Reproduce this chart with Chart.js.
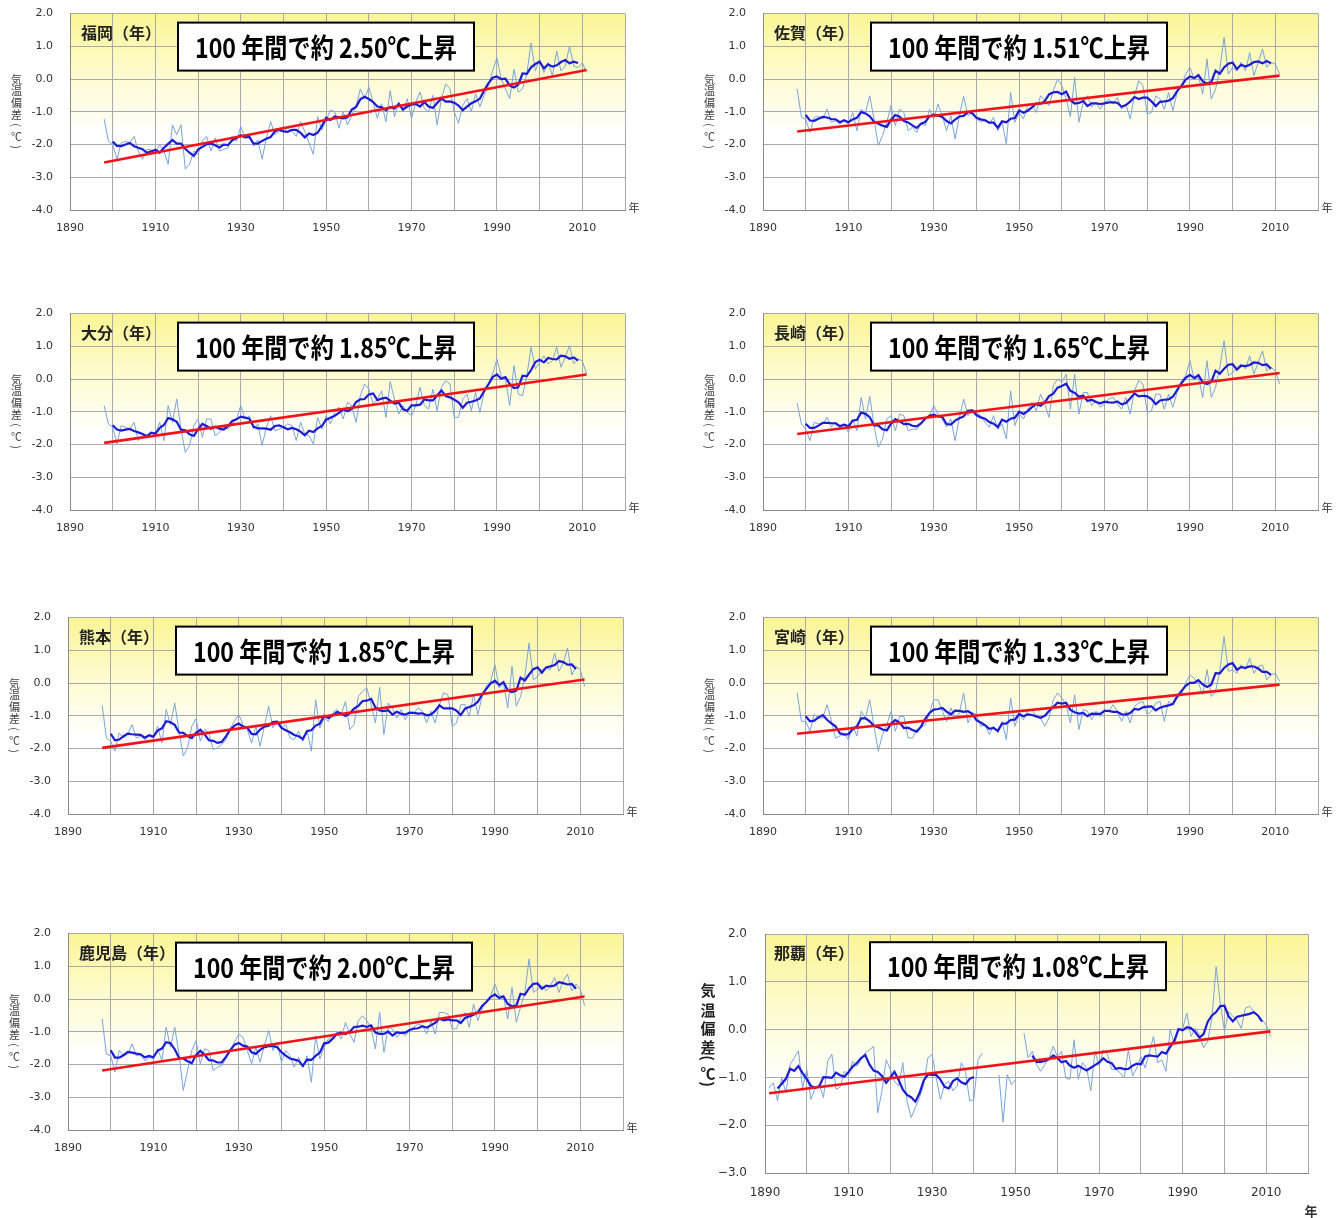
<!DOCTYPE html>
<html>
<head>
<meta charset="utf-8">
<script src="https://cdn.jsdelivr.net/npm/chart.js@4.4.0/dist/chart.umd.min.js"></script>
<style>
  html, body { margin: 0; padding: 0; background: #ffffff; }
  body { position: relative; width: 1343px; height: 1218px; overflow: hidden; }
  canvas { position: absolute; }
</style>
</head>
<body>
<script>
// Annual mean temperature anomaly (°C), one value per year from 1898 to 2011.
const firstYear = 1898;

const fukuokaAnnual = [
  -1.22, -1.90,
  -2.00, -2.45, -1.95, -1.90, -1.95, -1.75, -2.20, -2.45, -2.15, -2.15,
  -2.30, -2.00, -2.20, -2.60, -1.40, -1.70, -1.40, -2.75, -2.60, -2.20,
  -2.30, -1.90, -1.75, -2.20, -1.80, -2.20, -2.15, -2.10, -1.75, -1.90,
  -1.45, -1.80, -1.70, -2.05, -1.85, -2.45, -1.80, -1.30, -1.70, -1.60,
  -1.60, -1.50, -1.60, -1.75, -1.30, -1.60, -1.95, -2.30, -1.15, -1.55,
  -1.25, -0.95, -1.00, -1.50, -1.00, -1.40, -1.10, -0.85, -0.30, -0.60,
  -0.25, -0.70, -1.20, -0.75, -1.30, -0.35, -1.15, -0.70, -1.00, -0.60,
  -1.20, -0.70, -0.40, -0.90, -1.00, -0.50, -1.40, -0.60, -0.15, -0.30,
  -1.00, -1.35, -0.80, -0.60, -1.00, -0.45, -0.85, -0.50, -0.20, 0.25,
  0.65, 0.00, -0.30, -0.60, 0.30, -0.40, -0.30, 0.15, 1.10, 0.25,
  0.60, 0.20, 0.50, 0.10, 0.85, 0.25, 0.40, 1.00, 0.40, 0.35,
  0.50, 0.20
];

const sagaAnnual = [
  -0.30, -1.17,
  -1.22, -1.63, -1.17, -1.14, -1.22, -0.92, -1.32, -1.27, -1.37, -1.27,
  -1.37, -1.02, -1.58, -0.92, -1.02, -0.51, -1.22, -2.03, -1.73, -1.32,
  -0.81, -1.42, -0.92, -1.02, -1.58, -1.47, -1.63, -1.37, -1.42, -0.92,
  -1.22, -0.76, -1.12, -1.58, -1.12, -1.83, -1.12, -0.53, -1.12, -1.02,
  -1.22, -1.32, -1.22, -1.37, -1.17, -1.58, -1.32, -1.98, -0.41, -1.32,
  -1.02, -1.22, -0.81, -0.76, -1.02, -0.51, -0.66, -0.81, -0.36, 0.00,
  -0.20, -0.60, -1.15, 0.05, -1.32, -0.71, -0.51, -0.86, -0.71, -0.92,
  -0.71, -0.61, -0.76, -0.56, -0.92, -0.76, -1.22, -0.51, -0.05, -0.20,
  -1.07, -1.02, -0.51, -0.61, -0.92, -0.41, -0.97, -0.41, -0.20, 0.15,
  0.36, 0.00, 0.10, -0.46, 0.61, -0.61, -0.31, 0.31, 1.27, 0.15,
  0.36, 0.25, 0.51, 0.25, 0.81, 0.10, 0.51, 0.92, 0.36, 0.51,
  0.46, 0.15
];

const oitaAnnual = [
  -0.81, -1.37,
  -1.47, -1.98, -1.42, -1.47, -1.53, -1.32, -1.88, -1.73, -1.68, -1.78,
  -1.68, -1.32, -1.88, -0.81, -1.32, -0.61, -1.53, -2.24, -2.03, -1.42,
  -1.22, -1.78, -1.22, -1.22, -1.73, -1.63, -1.47, -1.53, -1.37, -1.22,
  -0.81, -1.22, -1.12, -1.53, -1.37, -2.03, -1.47, -1.12, -1.58, -1.53,
  -1.47, -1.37, -1.42, -1.88, -1.32, -1.68, -1.73, -1.98, -1.17, -1.53,
  -1.12, -1.37, -1.02, -0.86, -1.22, -0.71, -0.81, -1.32, -0.51, -0.15,
  -0.31, -0.76, -0.61, -0.36, -1.17, -0.08, -0.61, -1.07, -0.81, -1.02,
  -1.12, -0.81, -0.25, -0.81, -0.92, -0.31, -0.97, -0.25, -0.05, -0.15,
  -1.17, -1.17, -0.61, -0.46, -0.97, -0.41, -1.02, -0.41, -0.15, 0.15,
  0.61, 0.10, 0.00, -0.81, 0.41, -0.46, -0.51, 0.10, 0.97, 0.31,
  0.51, 0.71, 0.46, 0.56, 0.97, 0.36, 0.66, 1.02, 0.46, 0.61,
  0.56, 0.15
];

const nagasakiAnnual = [
  -0.73, -1.37,
  -1.53, -1.88, -1.32, -1.37, -1.37, -1.17, -1.47, -1.32, -1.42, -1.37,
  -1.63, -1.22, -1.58, -0.56, -1.22, -0.53, -1.42, -2.08, -1.83, -1.22,
  -1.12, -1.58, -1.07, -1.12, -1.58, -1.53, -1.53, -1.37, -1.22, -1.12,
  -0.81, -1.07, -1.22, -1.47, -1.22, -1.88, -1.17, -0.61, -1.12, -0.92,
  -1.02, -1.12, -1.32, -1.47, -1.12, -1.53, -1.37, -1.83, -0.36, -1.42,
  -1.07, -1.22, -0.92, -0.71, -0.97, -0.46, -0.76, -1.17, -0.20, 0.00,
  -0.10, 0.15, -0.92, 0.15, -1.07, -0.41, -0.41, -0.81, -0.66, -0.86,
  -0.76, -0.61, -0.56, -0.76, -0.92, -0.56, -1.07, -0.36, -0.05, -0.15,
  -1.02, -0.97, -0.46, -0.46, -0.92, -0.46, -0.86, -0.41, -0.05, 0.10,
  0.56, 0.00, 0.05, -0.56, 0.56, -0.56, -0.25, 0.36, 1.17, 0.10,
  0.20, 0.36, 0.46, 0.31, 0.71, 0.15, 0.51, 0.86, 0.25, 0.36,
  0.25, -0.15
];

const kumamotoAnnual = [
  -0.68, -1.68,
  -1.78, -2.08, -1.52, -1.68, -1.57, -1.27, -1.68, -1.62, -1.73, -1.62,
  -1.68, -1.32, -1.83, -0.81, -1.27, -0.61, -1.47, -2.23, -1.98, -1.32,
  -1.09, -1.78, -1.42, -1.52, -2.03, -1.98, -1.88, -1.73, -1.37, -1.17,
  -0.96, -1.27, -1.42, -1.83, -1.32, -1.93, -1.32, -0.71, -1.37, -1.17,
  -1.37, -1.27, -1.68, -1.73, -1.47, -1.78, -1.47, -2.08, -0.51, -1.37,
  -1.07, -1.17, -0.91, -0.81, -0.96, -0.56, -1.42, -1.27, -0.41, -0.25,
  -0.15, -0.66, -1.22, -0.13, -1.57, -0.61, -0.76, -1.07, -0.81, -1.12,
  -0.91, -0.91, -0.76, -0.86, -1.22, -0.86, -1.22, -0.66, -0.30, -0.36,
  -1.32, -1.22, -0.66, -0.66, -1.02, -0.36, -0.96, -0.41, -0.10, 0.05,
  0.56, -0.15, 0.00, -0.76, 0.51, -0.71, -0.41, 0.20, 1.22, 0.10,
  0.20, 0.41, 0.46, 0.41, 0.91, 0.36, 0.61, 1.07, 0.25, 0.51,
  0.41, -0.10
];

const miyazakiAnnual = [
  -0.30, -1.17,
  -1.17, -1.47, -0.96, -1.07, -1.07, -0.66, -1.12, -1.68, -1.62, -1.52,
  -1.73, -1.32, -1.62, -0.86, -1.07, -0.51, -1.32, -2.08, -1.57, -1.27,
  -0.86, -1.47, -1.02, -1.02, -1.68, -1.68, -1.42, -1.37, -1.27, -0.91,
  -0.51, -0.51, -0.86, -1.17, -0.76, -1.07, -0.91, -0.30, -1.22, -0.91,
  -0.96, -1.32, -1.27, -1.57, -1.32, -1.52, -1.17, -1.73, -0.46, -1.32,
  -0.96, -1.12, -0.86, -0.81, -1.02, -1.07, -1.32, -1.07, -0.51, -0.30,
  -0.46, -0.66, -1.22, -0.36, -1.42, -0.81, -0.86, -1.12, -0.86, -1.02,
  -0.86, -0.86, -0.66, -0.86, -1.17, -0.86, -1.22, -0.71, -0.61, -0.56,
  -0.96, -0.86, -0.61, -0.56, -1.17, -0.56, -0.66, -0.46, -0.36, 0.00,
  0.25, 0.15, 0.00, -0.36, 0.41, -0.41, -0.25, 0.36, 1.42, 0.36,
  0.41, 0.30, 0.56, 0.41, 0.76, 0.30, 0.51, 0.55, 0.10, 0.25,
  0.30, 0.05
];

const kagoshimaAnnual = [
  -0.61, -1.68,
  -1.73, -2.23, -1.57, -1.73, -1.68, -1.37, -1.73, -1.68, -1.88, -1.78,
  -1.83, -1.52, -1.88, -0.86, -1.47, -0.86, -1.68, -2.79, -2.18, -1.57,
  -1.27, -1.98, -1.52, -1.57, -2.18, -2.08, -2.03, -1.83, -1.57, -1.32,
  -1.07, -1.17, -1.57, -1.98, -1.47, -1.93, -1.42, -0.96, -1.57, -1.32,
  -1.93, -1.57, -1.73, -2.08, -1.78, -2.08, -1.73, -2.54, -1.12, -1.83,
  -1.47, -1.22, -1.12, -1.02, -1.22, -0.71, -1.07, -1.32, -0.66, -0.51,
  -0.66, -0.91, -1.52, -0.41, -1.62, -0.86, -0.91, -1.17, -1.02, -1.12,
  -0.96, -0.86, -0.76, -0.81, -1.07, -0.66, -1.07, -0.41, -0.41, -0.46,
  -0.91, -0.91, -0.56, -0.41, -0.86, -0.15, -0.66, -0.30, -0.05, 0.10,
  0.46, 0.10, 0.10, -0.61, 0.36, -0.71, -0.25, 0.20, 1.22, 0.20,
  0.30, 0.41, 0.25, 0.41, 0.66, 0.20, 0.56, 0.76, 0.25, 0.46,
  0.30, -0.20
];

// Naha starts in 1891; null marks years without an annual value.
const nahaFirstYear = 1891;
const nahaAnnual = [
  -1.22, -1.11, -1.49, -1.01, -1.32, -0.73, -0.59, -0.44, -1.22,
  -0.83, -1.46, -1.22, -1.15, -1.42, -0.66, -0.51, -1.25, -1.20, -0.87,
  -0.94, -0.66, -0.76, -0.63, -0.49, -0.42, -0.35, -1.74, -1.28, -0.63,
  -0.83, -1.08, -1.18, -0.69, -1.49, -1.84, -1.63, -1.42, -1.15, -0.59,
  -0.52, -1.01, -1.46, -1.15, -1.08, -1.28, -1.18, -0.69, -0.87, -1.49,
  -1.46, -0.63, -0.49, null, null, null, -0.94, -1.94, -0.94, -1.15,
  -1.04, null, -0.07, -0.59, -0.45, -0.73, -0.87, -0.73, -0.59, -0.35,
  -0.56, -0.45, -1.01, -1.04, -0.21, -1.04, -0.69, -0.80, -1.28, -0.45,
  -0.76, -0.42, -0.52, -0.83, -0.83, -0.90, -1.01, -0.42, -0.97, -0.80,
  -0.56, -0.80, -0.49, -0.14, -0.69, -0.63, -0.87, 0.00, -0.31, 0.00,
  0.03, 0.35, -0.14, 0.03, -0.10, -0.38, -0.24, 0.24, 1.32, 0.56,
  -0.03, 0.38, 0.28, 0.21, 0.03, 0.45, 0.49, 0.38, 0.31, 0.21,
  0.10, -0.14
];
// Naha years that are plotted but left out of the 5-year running mean.
const nahaYearsOutsideMean = [1946, 1947, 1948, 1949, 1950];

// Station names, trend rates (°C per 100 years) and trend value at its first year.
const stationNames = ['福岡', '佐賀', '大分', '長崎', '熊本', '宮崎', '鹿児島', '那覇'];
const trendRatePer100Years = [2.50, 1.51, 1.85, 1.65, 1.85, 1.33, 2.00, 1.08];
const trendValueAtStart = [-2.55, -1.60, -1.95, -1.68, -1.98, -1.55, -2.18, -1.33];
const trendLastYear = 2011;

// Axis tick labels.
const xLabelYears = [1890, 1910, 1930, 1950, 1970, 1990, 2010];
const yRangeKyushu = [-4, 2];
const yRangeNaha = [-3, 2];

// Page layout of each panel's plot area: [left, top, right, bottom].
const plotRects = [
  [70, 14, 625, 210], [763, 14, 1318, 210],
  [70, 314, 625, 510], [763, 314, 1318, 510],
  [68, 618, 623, 814], [763, 618, 1318, 814],
  [68, 934, 623, 1130], [765, 934, 1308, 1173]
];

const seriesList = [fukuokaAnnual, sagaAnnual, oitaAnnual, nagasakiAnnual,
                    kumamotoAnnual, miyazakiAnnual, kagoshimaAnnual, nahaAnnual];
const seriesFirstYear = [firstYear, firstYear, firstYear, firstYear,
                         firstYear, firstYear, firstYear, nahaFirstYear];
const yearsOutsideMean = [[], [], [], [], [], [], [], nahaYearsOutsideMean];

const CJK = '"Noto Sans CJK JP", "Noto Sans", sans-serif';

function toPoints(values, start) {
  return values.map((v, i) => ({ x: start + i, y: v }));
}

// Centered 5-year running mean; a gap wherever any of the 5 years is missing.
function runningMean(values, start, excluded) {
  const out = [];
  for (let i = 2; i < values.length - 2; i++) {
    let sum = 0, ok = true;
    for (let k = i - 2; k <= i + 2; k++) {
      const v = values[k];
      if (v === null || excluded.includes(start + k)) { ok = false; break; }
      sum += v;
    }
    out.push({ x: start + i, y: ok ? sum / 5 : null });
  }
  return out;
}

function trendLine(start, v0, rate) {
  return [
    { x: start, y: v0 },
    { x: trendLastYear, y: v0 + rate / 100 * (trendLastYear - start) }
  ];
}

const plotBackground = {
  id: 'plotBackground',
  beforeDraw(chart) {
    const { ctx, chartArea: a } = chart;
    const g = ctx.createLinearGradient(0, a.top, 0, a.bottom);
    g.addColorStop(0, 'rgb(250,245,148)');
    g.addColorStop(0.3, 'rgb(253,251,205)');
    g.addColorStop(0.62, 'rgb(255,255,255)');
    g.addColorStop(1, 'rgb(255,255,255)');
    ctx.save();
    ctx.fillStyle = g;
    ctx.fillRect(a.left, a.top, a.width, a.height);
    ctx.restore();
  }
};

function makeDecorations(idx, naha) {
  return {
    id: 'decor' + idx,
    afterDraw(chart) {
      const { ctx, chartArea: a } = chart;
      ctx.save();
      // station title
      ctx.fillStyle = '#222';
      ctx.font = 'bold 16px ' + CJK;
      ctx.textAlign = 'left';
      ctx.textBaseline = 'middle';
      ctx.fillText(stationNames[idx] + '（年）', a.left + (naha ? 9 : 11), a.top + 19);

      // trend box
      const bx = a.left + (naha ? 105 : 108), by = a.top + (naha ? 8 : 9), bw = 296, bh = 48;
      ctx.fillStyle = '#ffffff';
      ctx.fillRect(bx, by, bw, bh);
      ctx.strokeStyle = '#000';
      ctx.lineWidth = 2;
      ctx.strokeRect(bx, by, bw, bh);
      ctx.fillStyle = '#000';
      ctx.font = 'bold 27px ' + CJK;
      ctx.textAlign = 'center';
      ctx.textBaseline = 'middle';
      const txt = '100 年間で約 ' + trendRatePer100Years[idx].toFixed(2) + '℃上昇';
      ctx.fillText(txt, bx + bw / 2, by + bh / 2 + 1, 262);

      // x-axis unit
      ctx.fillStyle = '#333';
      if (naha) {
        ctx.font = 'bold 13px ' + CJK;
        ctx.fillText('年', a.right + 3, a.bottom + 38);
      } else {
        ctx.font = '11px ' + CJK;
        ctx.fillText('年', a.right + 9, a.bottom - 2);
      }

      // vertical y-axis title
      const chars = ['気', '温', '偏', '差', '(', '℃', ')'];
      const offs = naha ? [0, 20, 38.5, 57, 68, 83, 94] : [0, 11.7, 23.4, 35, 45.5, 57, 67.5];
      const cx = naha ? a.left - 57 : a.left - 53.5;
      const y0 = naha ? a.top + 56 : a.top + 66;
      ctx.fillStyle = naha ? '#222' : '#444';
      ctx.font = (naha ? 'bold 15px ' : '11px ') + CJK;
      chars.forEach((ch, i) => {
        const y = y0 + offs[i];
        if (ch === '(' || ch === ')') {
          ctx.save();
          ctx.translate(cx, y);
          ctx.rotate(Math.PI / 2);
          ctx.fillText(ch, 0, 0);
          ctx.restore();
        } else {
          ctx.fillText(ch, cx, y);
        }
      });
      ctx.restore();
    }
  };
}

plotRects.forEach((r, idx) => {
  const naha = idx === 7;
  const [L, T, R, B] = r;
  const yW = naha ? 75 : 70;
  const xH = naha ? 50 : 45;
  const padTop = 10, padRight = 30;
  const canvas = document.createElement('canvas');
  const cw = (R - L) + yW + padRight;
  const ch = (B - T) + padTop + xH;
  canvas.width = cw;
  canvas.height = ch;
  canvas.style.left = (L - yW) + 'px';
  canvas.style.top = (T - padTop) + 'px';
  document.body.appendChild(canvas);

  const values = seriesList[idx];
  const start = seriesFirstYear[idx];
  const yRange = naha ? yRangeNaha : yRangeKyushu;
  const tickFont = { family: '"DejaVu Sans", sans-serif', size: naha ? 12 : 11 };

  const chart = new Chart(canvas, {
    type: 'line',
    data: {
      datasets: [
        {
          label: '年平均気温偏差',
          data: toPoints(values, start),
          borderColor: '#79a5da',
          borderWidth: 1,
          pointRadius: 0,
          spanGaps: false,
          order: 3
        },
        {
          label: '5年移動平均',
          data: runningMean(values, start, yearsOutsideMean[idx]),
          borderColor: '#1c1cd6',
          borderWidth: 2.2,
          pointRadius: 0,
          spanGaps: false,
          order: 2
        },
        {
          label: '長期変化傾向',
          data: trendLine(start, trendValueAtStart[idx], trendRatePer100Years[idx]),
          borderColor: '#f0141a',
          borderWidth: 2.6,
          pointRadius: 0,
          order: 1
        }
      ]
    },
    options: {
      responsive: false,
      maintainAspectRatio: false,
      animation: false,
      events: [],
      layout: { padding: { top: padTop, right: padRight, left: 0, bottom: 0 } },
      plugins: { legend: { display: false }, tooltip: { enabled: false } },
      scales: {
        x: {
          type: 'linear',
          min: 1890,
          max: 2020,
          afterFit(scale) { scale.height = xH; },
          grid: { color: '#a9a9a9', lineWidth: 1, drawTicks: false },
          border: { color: '#8a8a8a', width: 1 },
          ticks: {
            stepSize: 10,
            autoSkip: false,
            maxRotation: 0,
            padding: naha ? 13 : 12,
            color: '#333',
            font: tickFont,
            callback: v => xLabelYears.includes(v) ? String(v) : ''
          }
        },
        y: {
          min: yRange[0],
          max: yRange[1],
          afterFit(scale) { scale.width = yW; },
          grid: { color: '#a9a9a9', lineWidth: 1, drawTicks: false },
          border: { color: '#8a8a8a', width: 1 },
          ticks: {
            stepSize: 1,
            padding: naha ? 18 : 17,
            color: '#333',
            font: tickFont,
            callback: v => {
              const s = Math.abs(v).toFixed(1);
              if (v < 0) return (naha ? '\u2212' : '-') + s;
              return s;
            }
          }
        }
      }
    },
    plugins: [plotBackground, makeDecorations(idx, naha)]
  });

  // Fit the canvas so the plot area lands exactly on its layout rectangle.
  const a = chart.chartArea;
  const newW = Math.round(cw + (R - L) - (a.right - a.left));
  const newH = Math.round(ch + (B - T) - (a.bottom - a.top));
  if (newW !== cw || newH !== ch) chart.resize(newW, newH);
  const a2 = chart.chartArea;
  canvas.style.left = (L - a2.left) + 'px';
  canvas.style.top = (T - a2.top) + 'px';
});
</script>
</body>
</html>
